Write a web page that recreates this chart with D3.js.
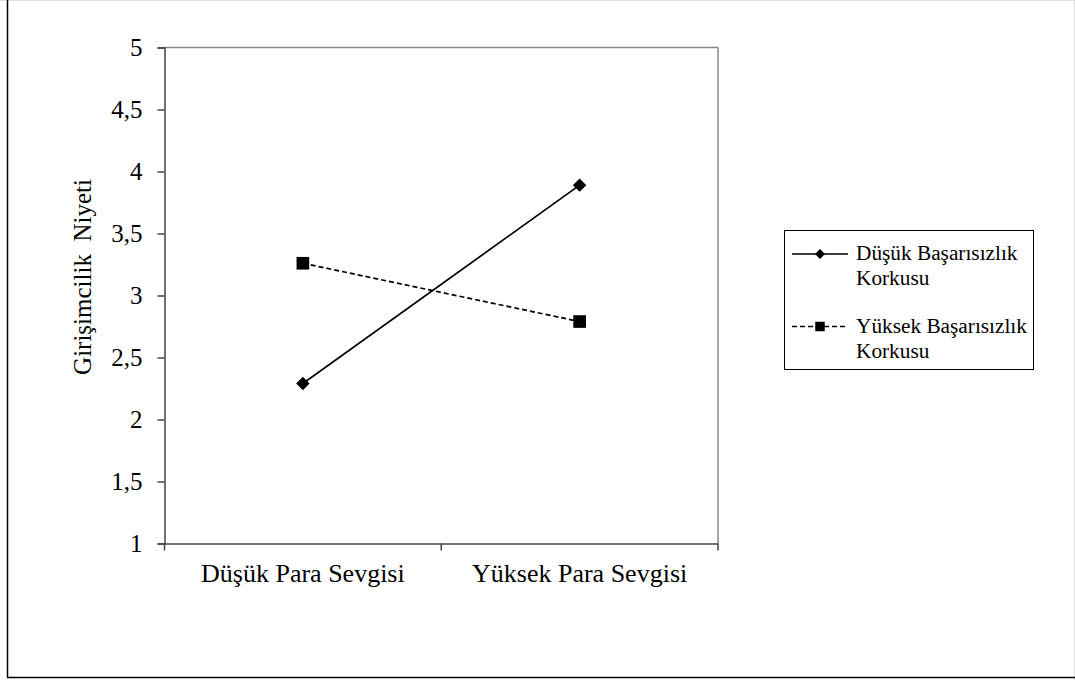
<!DOCTYPE html>
<html><head><meta charset="utf-8">
<script src="https://cdn.jsdelivr.net/npm/d3@7"></script>
<style>body{margin:0;background:#fff;} svg{display:block;font-family:"Liberation Serif","Times New Roman",serif;}</style>
</head><body>
<svg id="c" width="1075" height="680"></svg>
<script>
const categories = ["Düşük Para Sevgisi", "Yüksek Para Sevgisi"];
const seriesNames = ["Düşük Başarısızlık Korkusu", "Yüksek Başarısızlık Korkusu"];
const lowFearValues = [2.29, 3.89];
const highFearValues = [3.26, 2.79];
const yTicks = [1, 1.5, 2, 2.5, 3, 3.5, 4, 4.5, 5];
const yTitle = "Girişimcilik  Niyeti";

const svg = d3.select("#c");
const L = 164.5, R = 718, T = 47.5, B = 543.5;

// outer frame
svg.append("line").attr("x1",0).attr("x2",1075).attr("y1",0.5).attr("y2",0.5).attr("stroke","#e0e0e0");
svg.append("line").attr("x1",1074.5).attr("x2",1074.5).attr("y1",0).attr("y2",680).attr("stroke","#e0e0e0");
svg.append("line").attr("x1",7.5).attr("x2",7.5).attr("y1",0).attr("y2",678).attr("stroke","#000").attr("stroke-width",1.5);
svg.append("line").attr("x1",7).attr("x2",1075).attr("y1",677.5).attr("y2",677.5).attr("stroke","#000").attr("stroke-width",1.5);

const x = d3.scaleBand().domain(categories).range([L, R]);
const y = d3.scaleLinear().domain([1,5]).range([B, T]);

// top/right frame
svg.append("line").attr("x1",L).attr("x2",R).attr("y1",T).attr("y2",T).attr("stroke","#888").attr("stroke-width",1.5);
svg.append("line").attr("x1",R).attr("x2",R).attr("y1",T).attr("y2",B).attr("stroke","#888").attr("stroke-width",1.5);

// y axis
const yAxis = svg.append("g").attr("transform",`translate(${L},0)`)
  .call(d3.axisLeft(y).tickValues(yTicks).tickSize(7).tickPadding(15)
    .tickFormat(d => String(d).replace(".", ",")));
yAxis.select(".domain").attr("stroke","#444").attr("stroke-width",1.5);
yAxis.selectAll(".tick line").attr("stroke","#444").attr("stroke-width",1.5);
yAxis.selectAll(".tick text").attr("font-size",25).attr("fill","#000").attr("font-family","Liberation Serif");

// x axis
const xAxis = svg.append("g").attr("transform",`translate(0,${B})`)
  .call(d3.axisBottom(x).tickSize(0).tickPadding(20));
xAxis.select(".domain").attr("stroke","#444").attr("stroke-width",1.5);
xAxis.selectAll(".tick text").attr("font-size",26).attr("fill","#000").attr("font-family","Liberation Serif");
// boundary ticks
const bounds = [x.range()[0], x(categories[1]), x.range()[1]];
svg.append("g").selectAll("line").data(bounds).join("line")
  .attr("x1",d=>d).attr("x2",d=>d).attr("y1",B).attr("y2",B+7)
  .attr("stroke","#444").attr("stroke-width",1.5);

// y title
svg.append("text").attr("transform","translate(91,277) rotate(-90)")
  .attr("text-anchor","middle").attr("font-size",25).attr("xml:space","preserve")
  .style("white-space","pre").text(yTitle);

const cx = c => x(c) + x.bandwidth()/2;
const line = d3.line().x(d=>cx(d.c)).y(d=>y(d.v));

const s1 = categories.map((c,i)=>({c, v: lowFearValues[i]}));
const s2 = categories.map((c,i)=>({c, v: highFearValues[i]}));

svg.append("path").datum(s1).attr("d",line).attr("fill","none").attr("stroke","#000").attr("stroke-width",1.7);
svg.append("path").datum(s2).attr("d",line).attr("fill","none").attr("stroke","#000").attr("stroke-width",1.7).attr("stroke-dasharray","5,3");

svg.append("g").selectAll("path").data(s1).join("path")
  .attr("d",d3.symbol().type(d3.symbolSquare).size(90))
  .attr("transform",d=>`translate(${cx(d.c)},${y(d.v)}) rotate(45)`).attr("fill","#000");
svg.append("g").selectAll("path").data(s2).join("path")
  .attr("d",d3.symbol().type(d3.symbolSquare).size(160))
  .attr("transform",d=>`translate(${cx(d.c)},${y(d.v)})`).attr("fill","#000");

// legend
const lg = svg.append("g");
lg.append("rect").attr("x",784.5).attr("y",230.5).attr("width",249).attr("height",139)
  .attr("fill","#fff").attr("stroke","#000").attr("stroke-width",1);
const legendItems = [
  {lines:["Düşük Başarısızlık","Korkusu"], dash:null, y:254, sym:"d"},
  {lines:["Yüksek Başarısızlık","Korkusu"], dash:"5,3", y:326.5, sym:"s"}
];
legendItems.forEach(it=>{
  lg.append("line").attr("x1",792).attr("x2",848).attr("y1",it.y).attr("y2",it.y)
    .attr("stroke","#000").attr("stroke-width",1.5).attr("stroke-dasharray",it.dash);
  if(it.sym==="d"){
    lg.append("path").attr("d",d3.symbol().type(d3.symbolSquare).size(50)).attr("transform",`translate(820,${it.y}) rotate(45)`);
  } else {
    lg.append("path").attr("d",d3.symbol().type(d3.symbolSquare).size(90)).attr("transform",`translate(820,${it.y})`);
  }
  const t = lg.append("text").attr("x",856).attr("y",it.y+6).attr("font-size",21.3);
  t.append("tspan").attr("x",856).text(it.lines[0]);
  t.append("tspan").attr("x",856).attr("dy",25).text(it.lines[1]);
});
</script>
</body></html>
